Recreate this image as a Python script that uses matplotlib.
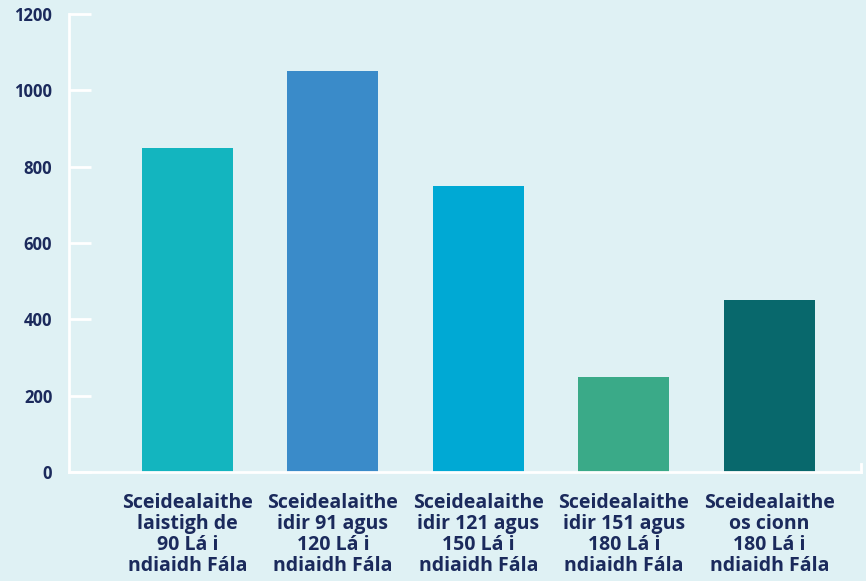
import matplotlib.pyplot as plot

categories = [
  "Sceidealaithe\nlaistigh de\n90 Lá i\nndiaidh Fála",
  "Sceidealaithe\nidir 91 agus\n120 Lá i\nndiaidh Fála",
  "Sceidealaithe\nidir 121 agus\n150 Lá i\nndiaidh Fála",
  "Sceidealaithe\nidir 151 agus\n180 Lá i\nndiaidh Fála",
  "Sceidealaithe\nos cionn\n180 Lá i\nndiaidh Fála",
]
values = [850, 1050, 750, 250, 450]
colours = ["#13b5bf", "#3a8bc9", "#00a9d4", "#3aaa88", "#08686c"]
y_ticks = [0, 200, 400, 600, 800, 1000, 1200]

background = "#dff1f4"
text_colour = "#1b2a5c"

figure = plot.figure(figsize=(8.66, 5.81), dpi=100, facecolor=background)
axes = figure.add_axes([69 / 866, 1 - 472 / 581, 792 / 866, 458 / 581])
axes.set_facecolor(background)

positions = list(range(len(values)))
axes.bar(positions, values, width=0.625, color=colours, zorder=2)

axes.set_xlim(-0.814, 4.63)
axes.set_ylim(0, 1200)

for side in ["top", "right"]:
  axes.spines[side].set_visible(False)
for side in ["left", "bottom"]:
  axes.spines[side].set_color("white")
  axes.spines[side].set_linewidth(2)

axes.set_yticks(y_ticks)
axes.set_yticklabels([str(t) for t in y_ticks], fontsize=12, fontweight="bold",
                     color=text_colour, family="Open Sans")
axes.tick_params(axis="y", direction="in", length=16, width=2, color="white", pad=12)

axes.set_xticks(positions)
axes.set_xticklabels(categories, fontsize=14, fontweight="bold", color=text_colour,
                     family="Open Sans", linespacing=1.08)
axes.tick_params(axis="x", length=0, pad=15)

# small upright tick at the right end of the base line
axes.plot([4.63, 4.63], [0, 22], color="white", linewidth=2, clip_on=False, zorder=3)

plot.savefig("out.png", dpi=100, facecolor=background)
plot.close()
